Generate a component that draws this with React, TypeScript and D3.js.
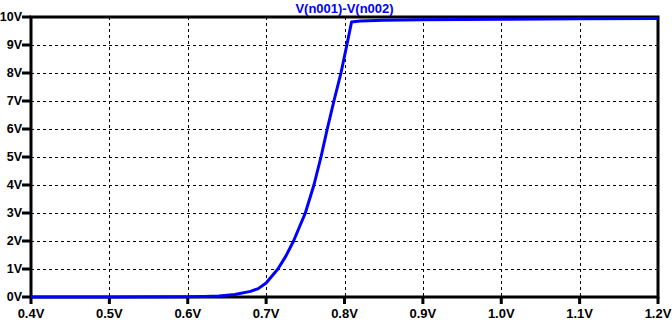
import React, { useEffect, useRef } from 'react';
import * as d3 from 'd3';

// sweep voltage (V) and differential output V(n001)-V(n002) (V)
const sweepV = [0.4, 0.5, 0.6, 0.62, 0.64, 0.66, 0.68, 0.69, 0.7, 0.715, 0.725, 0.735, 0.75, 0.761, 0.77, 0.778, 0.7865, 0.7955, 0.803, 0.809, 0.82, 0.85, 0.9, 1.0, 1.1, 1.2];
const outV = [0, 0, 0.01, 0.02, 0.04, 0.09, 0.2, 0.3, 0.5, 1.0, 1.45, 2.0, 3.0, 4.0, 5.0, 6.0, 7.0, 8.0, 9.0, 9.82, 9.86, 9.88, 9.9, 9.92, 9.94, 9.95];
const xTicks = [0.4, 0.5, 0.6, 0.7, 0.8, 0.9, 1.0, 1.1, 1.2];
const yTicks = [0, 1, 2, 3, 4, 5, 6, 7, 8, 9, 10];
const traceName = 'V(n001)-V(n002)';

export default function App() {
    const svgRef = useRef<SVGSVGElement>(null);

    useEffect(() => {
        const svg = d3.select(svgRef.current);
        svg.selectAll('*').remove();

        const W = 672;
        const H = 320;
        const margin = { top: 17, right: 14, bottom: 23, left: 31 };
        const width = W - margin.left - margin.right;
        const height = H - margin.top - margin.bottom;
        const font = '"Liberation Sans", Arial, sans-serif';

        const g = svg.append('g').attr('transform', `translate(${margin.left},${margin.top})`);

        const x = d3.scaleLinear().domain([0.4, 1.2]).range([0, width]);
        const y = d3.scaleLinear().domain([0, 10]).range([height, 0]);

        // grid
        g.selectAll('.vgrid')
            .data(xTicks.slice(1, -1))
            .enter()
            .append('line')
            .attr('x1', (d) => Math.round(x(d)) + 0.5)
            .attr('x2', (d) => Math.round(x(d)) + 0.5)
            .attr('y1', 0)
            .attr('y2', height)
            .attr('stroke', '#000')
            .attr('stroke-width', 1)
            .attr('stroke-dasharray', '3,3');

        g.selectAll('.hgrid')
            .data(yTicks.slice(1, -1))
            .enter()
            .append('line')
            .attr('x1', 0)
            .attr('x2', width)
            .attr('y1', (d) => Math.round(y(d)) + 0.5)
            .attr('y2', (d) => Math.round(y(d)) + 0.5)
            .attr('stroke', '#000')
            .attr('stroke-width', 1)
            .attr('stroke-dasharray', '3,3');

        // frame
        g.append('rect')
            .attr('x', 0)
            .attr('y', 0)
            .attr('width', width)
            .attr('height', height)
            .attr('fill', 'none')
            .attr('stroke', '#000')
            .attr('stroke-width', 3);

        // tick marks
        g.selectAll('.xt')
            .data(xTicks)
            .enter()
            .append('line')
            .attr('x1', (d) => x(d))
            .attr('x2', (d) => x(d))
            .attr('y1', height)
            .attr('y2', height + 7)
            .attr('stroke', '#000')
            .attr('stroke-width', 3);

        g.selectAll('.yt')
            .data(yTicks)
            .enter()
            .append('line')
            .attr('x1', -9)
            .attr('x2', 0)
            .attr('y1', (d) => y(d))
            .attr('y2', (d) => y(d))
            .attr('stroke', '#000')
            .attr('stroke-width', 3);

        // tick labels
        g.selectAll('.xl')
            .data(xTicks)
            .enter()
            .append('text')
            .attr('x', (d) => x(d))
            .attr('y', height + 21)
            .attr('text-anchor', 'middle')
            .style('font-family', font)
            .style('font-weight', 'bold')
            .style('font-size', '13px')
            .style('fill', '#000')
            .text((d) => `${d.toFixed(1)}V`);

        g.selectAll('.yl')
            .data(yTicks)
            .enter()
            .append('text')
            .attr('x', -9)
            .attr('y', (d) => y(d))
            .attr('dy', '0.35em')
            .attr('text-anchor', 'end')
            .style('font-family', font)
            .style('font-weight', 'bold')
            .style('font-size', '12.5px')
            .style('fill', '#000')
            .text((d) => `${d}V`);

        // trace
        const pts = sweepV.map((v, i) => [v, outV[i]] as [number, number]);
        const line = d3.line<[number, number]>()
            .x((d) => x(d[0]))
            .y((d) => y(d[1]));

        g.append('path')
            .datum(pts)
            .attr('fill', 'none')
            .attr('stroke', '#0000ff')
            .attr('stroke-width', 3)
            .attr('stroke-linejoin', 'round')
            .attr('d', line);

        // title
        svg.append('text')
            .attr('x', margin.left + width / 2)
            .attr('y', 13)
            .attr('text-anchor', 'middle')
            .style('font-family', font)
            .style('font-weight', 'bold')
            .style('font-size', '13px')
            .style('fill', '#0000ff')
            .text(traceName);
    }, []);

    return (
        <svg
            ref={svgRef}
            width={672}
            height={320}
            style={{ position: 'absolute', left: 0, top: 0, background: '#fff' }}
        />
    );
}
